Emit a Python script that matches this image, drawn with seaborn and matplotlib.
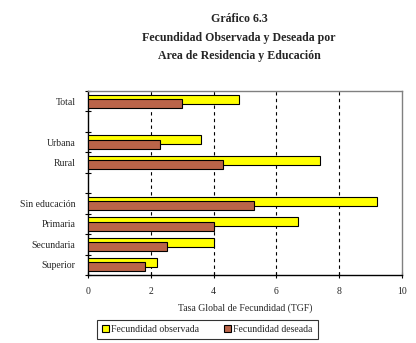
import matplotlib
matplotlib.use("Agg")
import matplotlib.pyplot as plt
import seaborn as sns
import pandas as pd
from matplotlib.patches import Patch

categories = ["Total", "", "Urbana", "Rural", "", "Sin educación", "Primaria", "Secundaria", "Superior"]
observada = [4.8, None, 3.6, 7.4, None, 9.2, 6.7, 4.0, 2.2]
deseada = [3.0, None, 2.3, 4.3, None, 5.3, 4.0, 2.5, 1.8]
xticks = [0, 2, 4, 6, 8, 10]

sns.set_style("white")
plt.rcParams["font.family"] = ["Liberation Serif", "DejaVu Serif"]

fig = plt.figure(figsize=(4.16, 3.43), dpi=100)
ax = fig.add_axes([88/416, 1-275/343, (402-88)/416, (275-91)/343])

off = 0.105
h = 0.44
rows_o = [(i - off, v) for i, v in enumerate(observada) if v is not None]
rows_d = [(i + off, v) for i, v in enumerate(deseada) if v is not None]
df_o = pd.DataFrame(rows_o, columns=["pos", "val"])
df_d = pd.DataFrame(rows_d, columns=["pos", "val"])

sns.barplot(data=df_o, x="val", y="pos", orient="h", native_scale=True, width=h,
            color="#FFFF00", saturation=1, edgecolor="black", linewidth=0.8, ax=ax, zorder=3)
sns.barplot(data=df_d, x="val", y="pos", orient="h", native_scale=True, width=h,
            color="#BA6449", saturation=1, edgecolor="black", linewidth=0.8, ax=ax, zorder=4)

ax.set_xlim(0, 10)
ax.set_ylim(len(categories) - 0.5, -0.5)
ax.set_xticks(xticks)
ax.set_xticklabels([str(t) for t in xticks], fontsize=7)
ax.set_yticks([i - 0.5 for i in range(len(categories) + 1)])
ax.set_yticklabels([])
ax.set_yticks(range(len(categories)), minor=True)
ax.set_yticklabels(categories, minor=True, fontsize=7)
ax.tick_params(axis="y", which="major", length=4, width=0.8, direction="inout", color="black", left=True)
ax.tick_params(axis="y", which="minor", length=0, pad=9)
ax.tick_params(axis="x", length=4, width=0.8, direction="inout", color="black", bottom=True, pad=7)
ax.set_ylabel("")
ax.set_xlabel("Tasa Global de Fecundidad (TGF)", fontsize=7, labelpad=5)

for t in [2, 4, 6, 8]:
    ax.axvline(t, color="black", linestyle=(0, (3, 3)), linewidth=0.8, zorder=1)

for s in ["left", "bottom"]:
    ax.spines[s].set_color("black")
    ax.spines[s].set_linewidth(1)
for s in ["top", "right"]:
    ax.spines[s].set_color("#808080")
    ax.spines[s].set_linewidth(1)

fig.text(239/416, 1-19/343, "Gráfico 6.3", ha="center", va="center", fontsize=8.6, fontweight="bold")
fig.text(239/416, 1-38/343, "Fecundidad Observada y Deseada por", ha="center", va="center", fontsize=8.6, fontweight="bold")
fig.text(239/416, 1-56/343, "Area de Residencia y Educación", ha="center", va="center", fontsize=8.6, fontweight="bold")

handles = [Patch(facecolor="#FFFF00", edgecolor="black", linewidth=0.8),
           Patch(facecolor="#BA6449", edgecolor="black", linewidth=0.8)]
leg = fig.legend(handles, ["Fecundidad observada", "Fecundidad deseada"], ncol=2,
                 loc="center", bbox_to_anchor=(207.5/416, 1-329.5/343), fontsize=7,
                 frameon=True, fancybox=False, edgecolor="black", handlelength=0.7,
                 handleheight=0.7, handletextpad=0.2, columnspacing=2.6, borderpad=0.55,
                 borderaxespad=0)
leg.get_frame().set_linewidth(0.8)

fig.savefig("out.png", dpi=100)
